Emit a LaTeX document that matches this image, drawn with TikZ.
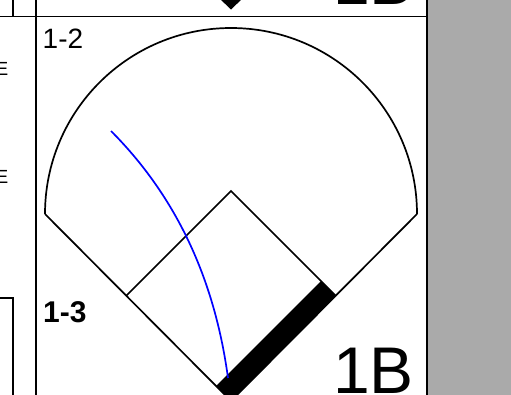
\documentclass[tikz,border=0pt]{standalone}
\usepackage{fontspec}
\setmainfont{Liberation Sans}
\definecolor{panelgray}{HTML}{AAAAAA}
\begin{document}
\begin{tikzpicture}[x=1pt,y=-1pt,
  rule/.style={line width=1.9pt,black},
  fieldline/.style={line width=1.7pt,black,line join=miter},
  hitline/.style={line width=1.7pt,blue},
  celllabel/.style={inner sep=0pt,anchor=base west,font=\fontsize{28}{28}\selectfont},
  baselabel/.style={inner sep=0pt,anchor=base east,font=\fontsize{66}{66}\selectfont}]
\useasboundingbox (0,0) rectangle (511,394);
\clip (0,0) rectangle (511,394);
% grey panel and cell rules
\fill[panelgray] (427,-2) rectangle (513,396);
\draw[rule] (-2,16.5) -- (427,16.5);
\draw[rule] (36,-2) -- (36,396);
\draw[rule] (427,-2) -- (427,396);
\draw[rule] (13,-2) -- (13,16.5);
\draw[rule] (-2,298) -- (13,298) -- (13,396);
% partial letters of the neighbouring column
\node[inner sep=0pt,anchor=base east,font=\fontsize{19}{19}\selectfont] (e1) at (8.5,75) {E};
\node[inner sep=0pt,anchor=base east,font=\fontsize{19}{19}\selectfont] (e2) at (8.5,183) {E};
% previous cell remnants
\fill[black] (219,-2) -- (243,-2) -- (231,9.5) -- cycle;
\node[baselabel] (prevB) at (414,4) {1B};
% field coordinates
\coordinate (home) at (231,401);
\coordinate (first) at (336,296);
\coordinate (second) at (231,191);
\coordinate (third) at (126,296);
\coordinate (lfoul) at (45,214);
\coordinate (rfoul) at (417,214);
% outfield arc
\draw[fieldline] (lfoul) arc[start angle=180,end angle=360,radius=186];
% foul lines
\draw[fieldline] (lfoul) -- (home);
\draw[fieldline] (rfoul) -- (home);
% infield diamond
\draw[fieldline] (third) -- (second) -- (first);
% thick bar home to first
\fill[black] (home) -- (first) -- (321,281) -- (216,386) -- cycle;
% hit trajectory
\draw[hitline] (111,131) .. controls (175.5,195.7) and (214.5,278) .. (228,378);
% labels
\node[celllabel] (l12) at (42.5,48) {1-2};
\node[celllabel,font=\fontsize{30}{30}\selectfont\bfseries] (l13) at (43,322) {1-3};
\node[baselabel] (lB) at (414,393) {1B};
\end{tikzpicture}
\end{document}
